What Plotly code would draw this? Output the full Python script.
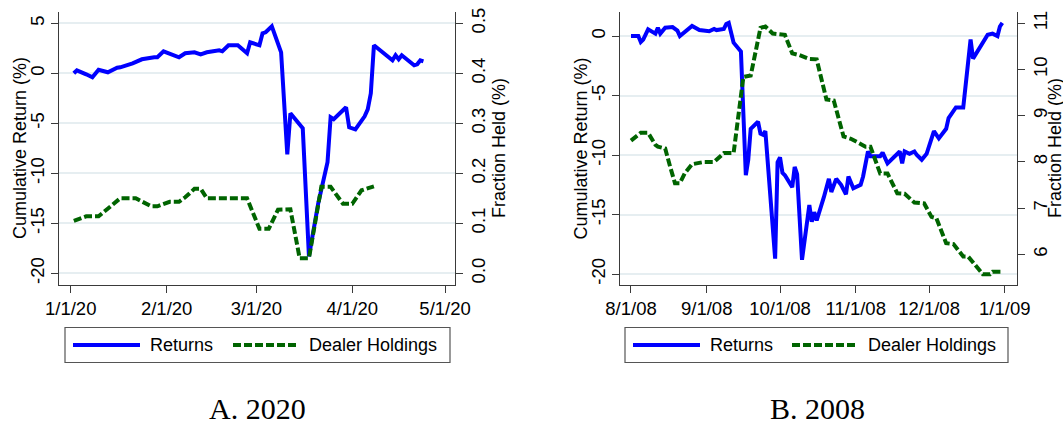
import plotly.graph_objects as go

# ---------------- Panel A: 2020 ----------------
ret20_dates = [
    "2020-01-02", "2020-01-03", "2020-01-06", "2020-01-08", "2020-01-10", "2020-01-13",
    "2020-01-16", "2020-01-17", "2020-01-21", "2020-01-24", "2020-01-28", "2020-01-29",
    "2020-01-31", "2020-02-03", "2020-02-05", "2020-02-07", "2020-02-10", "2020-02-12",
    "2020-02-14", "2020-02-18", "2020-02-19", "2020-02-21", "2020-02-24", "2020-02-27",
    "2020-02-28", "2020-03-02", "2020-03-03", "2020-03-04", "2020-03-06", "2020-03-09",
    "2020-03-11", "2020-03-12", "2020-03-16", "2020-03-18", "2020-03-21", "2020-03-24",
    "2020-03-25", "2020-03-26", "2020-03-30", "2020-03-31", "2020-04-02", "2020-04-05",
    "2020-04-06", "2020-04-07", "2020-04-08", "2020-04-14", "2020-04-15", "2020-04-16",
    "2020-04-17", "2020-04-21", "2020-04-22", "2020-04-23", "2020-04-24",
]
ret20_vals = [
    0.0, 0.3, -0.1, -0.4, 0.35, 0.1,
    0.55, 0.6, 1.0, 1.4, 1.6, 1.6,
    2.2, 1.9, 1.6, 2.0, 2.1, 1.9,
    2.1, 2.3, 2.2, 2.8, 2.8, 2.0,
    3.1, 2.8, 4.0, 4.1, 4.7, 2.1,
    -8.1, -4.0, -5.5, -18.3, -13.0, -8.9,
    -4.4, -4.6, -3.4, -5.4, -5.6, -4.3,
    -3.6, -2.0, 2.8, 1.3, 1.8, 1.4,
    1.8, 0.8, 0.9, 1.3, 1.2,
]

dealer20_dates = [
    "2020-01-02", "2020-01-06", "2020-01-10", "2020-01-13", "2020-01-17", "2020-01-22",
    "2020-01-27", "2020-01-29", "2020-02-02", "2020-02-05", "2020-02-07", "2020-02-10",
    "2020-02-12", "2020-02-14", "2020-02-27", "2020-03-02", "2020-03-05", "2020-03-08",
    "2020-03-12", "2020-03-15", "2020-03-18", "2020-03-22", "2020-03-25", "2020-03-29",
    "2020-04-01", "2020-04-04", "2020-04-08",
]
dealer20_vals = [
    0.105, 0.114, 0.114, 0.129, 0.150, 0.150,
    0.134, 0.134, 0.143, 0.143, 0.152, 0.169,
    0.169, 0.150, 0.150, 0.089, 0.089, 0.127,
    0.128, 0.030, 0.030, 0.173, 0.173, 0.139,
    0.139, 0.166, 0.174,
]

# ---------------- Panel B: 2008 ----------------
ret08_dates = [
    "2008-08-01", "2008-08-04", "2008-08-05", "2008-08-06", "2008-08-08", "2008-08-11",
    "2008-08-12", "2008-08-13", "2008-08-15", "2008-08-18", "2008-08-20", "2008-08-21",
    "2008-08-26", "2008-08-29", "2008-09-02", "2008-09-04", "2008-09-05", "2008-09-08",
    "2008-09-09", "2008-09-10", "2008-09-12", "2008-09-15", "2008-09-17", "2008-09-18",
    "2008-09-19", "2008-09-22", "2008-09-23", "2008-09-24", "2008-09-25", "2008-09-29",
    "2008-09-30", "2008-10-01", "2008-10-02", "2008-10-03", "2008-10-06", "2008-10-07",
    "2008-10-08", "2008-10-10", "2008-10-13", "2008-10-14", "2008-10-15", "2008-10-16",
    "2008-10-19", "2008-10-21", "2008-10-22", "2008-10-24", "2008-10-26", "2008-10-28",
    "2008-10-29", "2008-10-31", "2008-11-03", "2008-11-04", "2008-11-06", "2008-11-07",
    "2008-11-11", "2008-11-12", "2008-11-14", "2008-11-17", "2008-11-19", "2008-11-20",
    "2008-11-21", "2008-11-23", "2008-11-25", "2008-11-26", "2008-11-28", "2008-11-30",
    "2008-12-02", "2008-12-03", "2008-12-05", "2008-12-08", "2008-12-09", "2008-12-12",
    "2008-12-15", "2008-12-18", "2008-12-19", "2008-12-23", "2008-12-25", "2008-12-27",
    "2008-12-29", "2008-12-30", "2008-12-31",
]
ret08_vals = [
    0.0, 0.0, -0.5, -0.3, 0.56, 0.2,
    0.7, 0.2, 0.7, 0.75, 0.45, 0.0,
    0.84, 0.5, 0.4, 0.6, 0.5, 0.6,
    1.0, 1.1, -0.56, -1.3, -11.7, -10.4,
    -7.8, -7.2, -8.2, -8.3, -8.0, -18.7,
    -10.6, -10.2, -11.5, -11.7, -12.7, -11.0,
    -11.6, -18.8, -14.2, -15.6, -14.8, -15.5,
    -13.5, -12.0, -13.1, -12.0, -12.5, -13.3,
    -11.8, -12.8, -12.5, -11.8, -9.7, -10.1,
    -10.1, -9.8, -10.7, -10.1, -9.7, -10.7,
    -9.7, -9.9, -9.7, -10.0, -10.4, -9.9,
    -8.7, -8.0, -8.6, -7.8, -6.9, -6.0,
    -6.0, -0.3, -1.9, -0.6, 0.1, 0.2,
    0.0, 0.8, 1.1,
]

dealer08_dates = [
    "2008-08-01", "2008-08-05", "2008-08-08", "2008-08-11", "2008-08-12", "2008-08-15",
    "2008-08-17", "2008-08-19", "2008-08-21", "2008-08-23", "2008-08-26", "2008-08-31",
    "2008-09-04", "2008-09-08", "2008-09-12", "2008-09-16", "2008-09-19", "2008-09-23",
    "2008-09-25", "2008-09-28", "2008-10-03", "2008-10-06", "2008-10-09", "2008-10-13",
    "2008-10-16", "2008-10-20", "2008-10-23", "2008-10-27", "2008-10-30", "2008-11-05",
    "2008-11-07", "2008-11-11", "2008-11-14", "2008-11-18", "2008-11-21", "2008-11-25",
    "2008-11-29", "2008-12-02", "2008-12-04", "2008-12-08", "2008-12-11", "2008-12-15",
    "2008-12-17", "2008-12-23", "2008-12-26", "2008-12-27", "2008-12-31",
]
dealer08_vals = [
    8.46, 8.63, 8.63, 8.37, 8.33, 8.29,
    7.90, 7.54, 7.54, 7.75, 7.95, 8.00,
    8.00, 8.19, 8.19, 9.84, 9.87, 10.90,
    10.93, 10.78, 10.75, 10.35, 10.31, 10.23,
    10.22, 9.35, 9.33, 8.55, 8.50, 8.33,
    8.33, 7.75, 7.75, 7.32, 7.31, 7.12,
    7.10, 6.81, 6.78, 6.24, 6.22, 5.95,
    5.95, 5.57, 5.57, 5.62, 5.62,
]

# Axis tick labels
x20_ticks = ["2020-01-01", "2020-02-01", "2020-03-01", "2020-04-01", "2020-05-01"]
x20_labels = ["1/1/20", "2/1/20", "3/1/20", "4/1/20", "5/1/20"]
x08_ticks = ["2008-08-01", "2008-09-01", "2008-10-01", "2008-11-01", "2008-12-01", "2009-01-01"]
x08_labels = ["8/1/08", "9/1/08", "10/1/08", "11/1/08", "12/1/08", "1/1/09"]
ret20_ticks = [5, 0, -5, -10, -15, -20]
ret08_ticks = [0, -5, -10, -15, -20]
frac20_ticks = [0.0, 0.1, 0.2, 0.3, 0.4, 0.5]
frac20_labels = ["0.0", "0.1", "0.2", "0.3", "0.4", "0.5"]
frac08_ticks = [6, 7, 8, 9, 10, 11]

series_names = ["Returns", "Dealer Holdings"]
axis_titles = ["Cumulative Return (%)", "Fraction Held (%)"]
captions = ["A. 2020", "B. 2008"]

BLUE = "#0000ff"
GREEN = "#006400"
GRID = "#e6eef1"
AXIS = "#3a3a3a"
SANS = "Liberation Sans, Arial, sans-serif"
SERIF = "Liberation Serif, Times New Roman, serif"
DASH = "8px,3px"

W, H = 1063, 424


def px_x(v):
    return v / W


def px_y(v):
    return 1 - v / H


def hyphen(v):
    return str(v).replace("\u2212", "-")


fig = go.Figure()

fig.add_trace(go.Scatter(x=ret20_dates, y=ret20_vals, mode="lines", name=series_names[0],
                         line=dict(color=BLUE, width=4), xaxis="x", yaxis="y"))
fig.add_trace(go.Scatter(x=dealer20_dates, y=dealer20_vals, mode="lines", name=series_names[1],
                         line=dict(color=GREEN, width=4, dash=DASH), xaxis="x", yaxis="y2"))
fig.add_trace(go.Scatter(x=ret08_dates, y=ret08_vals, mode="lines", name=series_names[0],
                         line=dict(color=BLUE, width=4), xaxis="x2", yaxis="y3"))
fig.add_trace(go.Scatter(x=dealer08_dates, y=dealer08_vals, mode="lines", name=series_names[1],
                         line=dict(color=GREEN, width=4, dash=DASH), xaxis="x2", yaxis="y4"))

PLOT_TOP, PLOT_BOTTOM = 12, 285
ydom = [px_y(PLOT_BOTTOM), px_y(PLOT_TOP)]
tick_font = dict(family=SANS, size=18.5, color="black")

common_x = dict(type="date", showgrid=False, zeroline=False, showline=True, linecolor=AXIS,
                linewidth=1.2, ticks="outside", ticklen=7, tickcolor=AXIS, tickwidth=1.2,
                tickfont=tick_font, automargin=False)
common_y = dict(zeroline=False, showline=True, linecolor=AXIS, linewidth=1.2, ticks="outside",
                ticklen=7, tickcolor=AXIS, tickwidth=1.2, tickfont=tick_font, tickangle=-90,
                domain=ydom, automargin=False)

fig.update_layout(
    template="none",
    width=W, height=H, autosize=False,
    margin=dict(l=0, r=0, t=0, b=0, pad=0),
    paper_bgcolor="white", plot_bgcolor="white",
    showlegend=False,
    xaxis=dict(common_x, domain=[px_x(59), px_x(455)], anchor="y",
               range=["2019-12-28 05:00", "2020-05-04 05:00"],
               tickvals=x20_ticks, ticktext=x20_labels),
    xaxis2=dict(common_x, domain=[px_x(620), px_x(1017)], anchor="y3",
                range=["2008-07-27 12:00", "2009-01-06 00:00"],
                tickvals=x08_ticks, ticktext=x08_labels),
    yaxis=dict(common_y, anchor="x", side="left", range=[-21.17, 6.13],
               showgrid=True, gridcolor=GRID, gridwidth=1.5,
               tickvals=ret20_ticks, ticktext=[hyphen(v) for v in ret20_ticks]),
    yaxis2=dict(common_y, anchor="x", overlaying="y", side="right", range=[-0.0234, 0.5226],
                showgrid=False, tickvals=frac20_ticks, ticktext=frac20_labels),
    yaxis3=dict(common_y, anchor="x2", side="left", range=[-20.92, 2.017],
                showgrid=True, gridcolor=GRID, gridwidth=1.5,
                tickvals=ret08_ticks, ticktext=[hyphen(v) for v in ret08_ticks]),
    yaxis4=dict(common_y, anchor="x2", overlaying="y3", side="right", range=[5.335, 11.245],
                showgrid=False, tickvals=frac08_ticks, ticktext=[str(v) for v in frac08_ticks]),
)

# Rotated axis titles beside each panel (left: returns, right: holdings)
title_y = (PLOT_TOP + PLOT_BOTTOM) / 2
for left_x, right_x in [(19.5, 498.5), (580, 1054.5)]:
    for tx, text in zip((left_x, right_x), axis_titles):
        fig.add_annotation(x=px_x(tx), y=px_y(title_y), xref="paper", yref="paper",
                           text=text, textangle=-90, showarrow=False,
                           xanchor="center", yanchor="middle", borderpad=0,
                           font=dict(family=SANS, size=18, color="black"))

# Hand-built legend boxes beneath each panel, plus the panel captions
legend_boxes = [
    dict(box=(65, 450), blue=(73, 140), returns_x=149, green=(233, 297), dealer_x=308,
         caption_x=257.5),
    dict(box=(625, 1008), blue=(633, 700), returns_x=709, green=(792, 857), dealer_x=867,
         caption_x=817),
]
box_top, box_bottom, line_y = 327.5, 362.5, 345

for spec, caption in zip(legend_boxes, captions):
    x0, x1 = spec["box"]
    fig.add_shape(type="rect", xref="paper", yref="paper",
                  x0=px_x(x0), x1=px_x(x1), y0=px_y(box_bottom), y1=px_y(box_top),
                  line=dict(color="#555555", width=1.2), fillcolor="white")
    fig.add_shape(type="line", xref="paper", yref="paper",
                  x0=px_x(spec["blue"][0]), x1=px_x(spec["blue"][1]),
                  y0=px_y(line_y), y1=px_y(line_y), line=dict(color=BLUE, width=4))
    fig.add_shape(type="line", xref="paper", yref="paper",
                  x0=px_x(spec["green"][0]), x1=px_x(spec["green"][1]),
                  y0=px_y(line_y), y1=px_y(line_y), line=dict(color=GREEN, width=4, dash=DASH))
    fig.add_annotation(x=px_x(spec["returns_x"]), y=px_y(line_y), xref="paper", yref="paper",
                       text=series_names[0], showarrow=False, xanchor="left", yanchor="middle",
                       font=dict(family=SANS, size=18, color="black"), borderpad=0)
    fig.add_annotation(x=px_x(spec["dealer_x"]), y=px_y(line_y), xref="paper", yref="paper",
                       text=series_names[1], showarrow=False, xanchor="left", yanchor="middle",
                       font=dict(family=SANS, size=18, color="black"), borderpad=0)
    fig.add_annotation(x=px_x(spec["caption_x"]), y=px_y(408), xref="paper", yref="paper",
                       text=caption, showarrow=False, xanchor="center", yanchor="middle",
                       font=dict(family=SERIF, size=30, color="black"), borderpad=0)

fig.write_html("out.html")
